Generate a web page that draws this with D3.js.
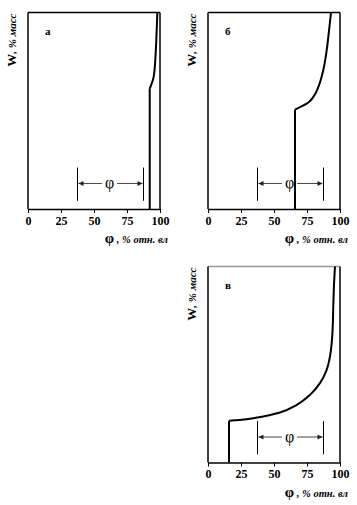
<!DOCTYPE html>
<html><head><meta charset="utf-8">
<script src="https://cdn.jsdelivr.net/npm/d3@7"></script>
<style>body{margin:0;background:#fff}svg{display:block}
svg text{font-family:"Liberation Serif","Times New Roman",serif !important;}
</style>
</head><body>
<script>
// Panels
const panelLetters = ["а", "б", "в"];
const xTicks = [0, 25, 50, 75, 100];
// Start of the curved part (phi at which the vertical segment rises from W=0)
const breakPhi = [92.2, 65.9, 15.9];
// Curves: phi (% rel. humidity) and W (% mass)
const curveA_phi = [92.2, 93.7, 94.9, 95.7, 96.4, 97.2, 98.0];
const curveA_W   = [61.3, 63.8, 66.3, 69.7, 75.6, 85.8, 100];
const curveB_phi = [65.9, 69.7, 74.8, 79.8, 83.6, 87.3, 89.9, 91.7, 93.2];
const curveB_W   = [50.6, 51.9, 53.6, 57.0, 62.1, 70.6, 80.7, 90.9, 100];
const curveC_phi = [15.9, 29.3, 41.9, 54.5, 67.2, 77.3, 84.8, 89.9, 92.4, 93.7, 94.5, 94.9, 95.5, 96.2];
const curveC_W   = [21.3, 22.1, 23.5, 25.5, 29.4, 34.5, 40.5, 47.3, 54.1, 60.9, 69.4, 79.6, 91.5, 100];
// Range marker for phi
const rangePhi = [37.5, 87.5];
const rangeW = [4.2, 21.1];
const rangeArrowW = 13;
const rangeGap = [56, 67.5];

const panels = [
  {letter: panelLetters[0], brk: breakPhi[0], phi: curveA_phi, w: curveA_W, x0: 28, y0: 12.5, h: 196.5, topColor: "#000"},
  {letter: panelLetters[1], brk: breakPhi[1], phi: curveB_phi, w: curveB_W, x0: 208, y0: 12.5, h: 196.5, topColor: "#000"},
  {letter: panelLetters[2], brk: breakPhi[2], phi: curveC_phi, w: curveC_W, x0: 208, y0: 266.5, h: 196, topColor: "#999"}
];

const svg = d3.select("body").append("svg").attr("width", 357).attr("height", 505);
const defs = svg.append("defs");
defs.append("marker").attr("id", "ah").attr("viewBox", "0 0 10 10").attr("refX", 10).attr("refY", 5)
  .attr("markerWidth", 6).attr("markerHeight", 5).attr("markerUnits", "userSpaceOnUse").attr("orient", "auto")
  .append("path").attr("d", "M0,0L10,5L0,10z").attr("fill", "#222");

const W = 132;
panels.forEach(p => {
  const g = svg.append("g").attr("transform", `translate(${p.x0},${p.y0})`);
  const x = d3.scaleLinear().domain([0, 100]).range([0, W]);
  const y = d3.scaleLinear().domain([0, 100]).range([p.h, 0]);

  // frame
  g.append("line").attr("x1", 0).attr("x2", W).attr("y1", 0).attr("y2", 0).attr("stroke", p.topColor).attr("stroke-width", 1.5);
  g.append("line").attr("x1", W).attr("x2", W).attr("y1", 0).attr("y2", p.h).attr("stroke", "#000").attr("stroke-width", 1.5);
  g.append("line").attr("x1", 0).attr("x2", 0).attr("y1", 0).attr("y2", p.h).attr("stroke", "#000").attr("stroke-width", 1.5);

  const ax = g.append("g").attr("transform", `translate(0,${p.h})`)
    .call(d3.axisBottom(x).tickValues(xTicks).tickSize(4).tickSizeOuter(0).tickPadding(3));
  ax.select(".domain").attr("stroke", "#000").attr("stroke-width", 1.5);
  ax.selectAll(".tick line").attr("stroke", "#000").attr("stroke-width", 1);
  ax.selectAll(".tick text").attr("font-weight", "bold").attr("font-size", 12).attr("fill", "#000");

  // curve: vertical part + curved part
  g.append("line").attr("x1", x(p.brk)).attr("x2", x(p.brk)).attr("y1", y(0)).attr("y2", y(p.w[0]))
    .attr("stroke", "#000").attr("stroke-width", 2);
  const pts = p.phi.map((v, i) => [v, p.w[i]]);
  g.append("path").attr("d", d3.line().x(d => x(d[0])).y(d => y(d[1])).curve(d3.curveMonotoneY)(pts))
    .attr("fill", "none").attr("stroke", "#000").attr("stroke-width", 2);

  // range marker
  rangePhi.forEach(v => g.append("line").attr("x1", x(v)).attr("x2", x(v)).attr("y1", y(rangeW[0])).attr("y2", y(rangeW[1]))
    .attr("stroke", "#000").attr("stroke-width", 1));
  g.append("line").attr("x1", x(rangeGap[0])).attr("x2", x(rangePhi[0]) + 1).attr("y1", y(rangeArrowW)).attr("y2", y(rangeArrowW))
    .attr("stroke", "#444").attr("stroke-width", 1).attr("marker-end", "url(#ah)");
  g.append("line").attr("x1", x(rangeGap[1])).attr("x2", x(rangePhi[1]) - 1).attr("y1", y(rangeArrowW)).attr("y2", y(rangeArrowW))
    .attr("stroke", "#444").attr("stroke-width", 1).attr("marker-end", "url(#ah)");
  g.append("text").attr("x", x((rangeGap[0] + rangeGap[1]) / 2)).attr("y", y(rangeArrowW) + 5)
    .attr("text-anchor", "middle").attr("font-size", 16).text("φ");

  // letter
  g.append("text").attr("x", 17).attr("y", 22).attr("font-weight", "bold").attr("font-size", 11).text(p.letter);

  // y label
  const yl = g.append("text").attr("transform", `translate(-12,1) rotate(-90)`).attr("text-anchor", "end")
    .attr("font-weight", "bold");
  yl.append("tspan").attr("font-size", 13).text("W");
  yl.append("tspan").attr("font-size", 11).attr("font-style", "italic").text(", % масс");

  // x label
  const xl = g.append("text").attr("x", W + 8).attr("y", p.h + 34).attr("text-anchor", "end").attr("font-weight", "bold");
  xl.append("tspan").attr("font-size", 15).text("φ");
  xl.append("tspan").attr("font-size", 10.5).attr("font-style", "italic").text(" , % отн. вл");
});
</script>
</body></html>
